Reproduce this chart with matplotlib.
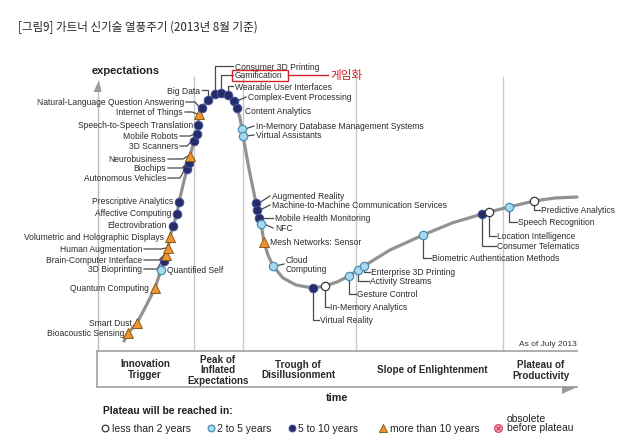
import matplotlib
matplotlib.use("Agg")
import matplotlib.pyplot as plt
from matplotlib.patches import Rectangle, Polygon

# ---------------- data ----------------
title = "[그림9] 가트너 신기술 열풍주기 (2013년 8월 기준)"

# hype curve (time, expectations) (pixel space)
curve_x = [124, 128, 137, 146, 155, 161, 164, 166, 168, 170, 173, 177, 179, 183, 187, 189,
           190, 194, 197, 198, 199, 202, 208, 215, 221, 228, 234, 237, 240, 242, 243, 249,
           256, 257, 259, 261, 264, 268, 273, 283, 296, 313, 325, 337, 349, 358, 364, 390,
           423, 452, 482, 489, 509, 534, 555, 577]
curve_y = [342, 334, 324, 307, 289, 271, 262, 256, 249, 238, 227, 215, 203, 186, 170, 164,
           157, 142, 135, 126, 115, 109, 101, 95, 94, 96, 102, 109, 119, 130, 137, 170,
           204, 211, 219, 225, 243, 256, 267, 279, 286, 289, 287, 283, 277, 271, 267, 251,
           236, 224, 215, 213, 208, 202, 199, 198]

tech_names = [
    "Bioacoustic Sensing", "Smart Dust", "Quantum Computing", "Quantified Self",
    "3D Bioprinting", "Brain-Computer Interface", "Human Augmentation",
    "Volumetric and Holographic Displays", "Electrovibration", "Affective Computing",
    "Prescriptive Analytics", "Autonomous Vehicles", "Biochips", "Neurobusiness",
    "3D Scanners", "Mobile Robots", "Speech-to-Speech Translation", "Internet of Things",
    "Natural-Language Question Answering", "Big Data", "Consumer 3D Printing",
    "Gamification", "Wearable User Interfaces", "Complex-Event Processing",
    "Content Analytics", "In-Memory Database Management Systems", "Virtual Assistants",
    "Augmented Reality", "Machine-to-Machine Communication Services",
    "Mobile Health Monitoring", "NFC", "Mesh Networks: Sensor", "Cloud\nComputing",
    "Virtual Reality", "In-Memory Analytics", "Gesture Control", "Activity Streams",
    "Enterprise 3D Printing", "Biometric Authentication Methods", "Consumer Telematics",
    "Location Intelligence", "Speech Recognition", "Predictive Analytics",
]
tech_x = [128, 137, 155, 161, 164, 166, 168, 170, 173, 177, 179, 187, 189, 190, 194, 197,
          198, 199, 202, 208, 215, 221, 228, 234, 237, 242, 243, 256, 257, 259, 261, 264,
          273, 313, 325, 349, 358, 364, 423, 482, 489, 509, 534]
tech_y = [334, 324, 289, 271, 262, 256, 249, 238, 227, 215, 203, 170, 164, 157, 142, 135,
          126, 115, 109, 101, 95, 94, 96, 102, 109, 130, 137, 204, 211, 219, 225, 243,
          267, 289, 287, 277, 271, 267, 236, 215, 213, 208, 202]
# plateau category: 0 <2y, 1 2-5y, 2 5-10y, 3 >10y
tech_cat = [3, 3, 3, 1, 2, 3, 3, 3, 2, 2, 2, 2, 2, 3, 2, 2, 2, 3, 2, 2, 2, 2, 2, 2, 2, 1, 1,
            2, 2, 2, 1, 3, 1, 2, 0, 1, 1, 1, 1, 2, 0, 1, 0]

phase_labels = ["Innovation\nTrigger", "Peak of\nInflated\nExpectations",
                "Trough of\nDisillusionment", "Slope of Enlightenment",
                "Plateau of\nProductivity"]
legend_labels = ["less than 2 years", "2 to 5 years", "5 to 10 years", "more than 10 years",
                 "obsolete\nbefore plateau"]

# ---------------- layout (label anchors and leader styles) ----------------
label_layout = {
    "Bioacoustic Sensing": (124, 334, "right", None),
    "Smart Dust": (132, 324, "right", None),
    "Quantum Computing": (149, 289, "right", None),
    "Quantified Self": (167, 271, "left", None),
    "3D Bioprinting": (142, 270, "right", "elbowL"),
    "Brain-Computer Interface": (142, 261, "right", "elbowL"),
    "Human Augmentation": (142, 250, "right", "elbowL"),
    "Volumetric and Holographic Displays": (164, 238, "right", None),
    "Electrovibration": (167, 226, "right", None),
    "Affective Computing": (171, 214, "right", None),
    "Prescriptive Analytics": (173, 202, "right", None),
    "Autonomous Vehicles": (166, 179, "right", "elbowL"),
    "Biochips": (166, 169, "right", "elbowL"),
    "Neurobusiness": (166, 160, "right", "elbowL"),
    "3D Scanners": (178, 147, "right", "elbowL"),
    "Mobile Robots": (178, 137, "right", "elbowL"),
    "Speech-to-Speech Translation": (193, 126, "right", None),
    "Internet of Things": (183, 113, "right", "elbowL"),
    "Natural-Language Question Answering": (184, 103, "right", "elbowL"),
    "Big Data": (200, 91, "right", "upL"),
    "Consumer 3D Printing": (235, 67, "left", "upR"),
    "Gamification": (235, 76, "left", "upR"),
    "Wearable User Interfaces": (235, 87, "left", "upR"),
    "Complex-Event Processing": (248, 98, "left", "straightR"),
    "Content Analytics": (245, 112, "left", None),
    "In-Memory Database Management Systems": (256, 127, "left", "straightR"),
    "Virtual Assistants": (256, 136, "left", "straightR"),
    "Augmented Reality": (272, 197, "left", "straightR"),
    "Machine-to-Machine Communication Services": (272, 206, "left", "straightR"),
    "Mobile Health Monitoring": (275, 219, "left", "straightR"),
    "NFC": (275, 229, "left", "straightR"),
    "Mesh Networks: Sensor": (270, 243, "left", None),
    "Cloud\nComputing": (286, 265, "left", "straightR"),
    "Virtual Reality": (320, 321, "left", "down"),
    "In-Memory Analytics": (330, 308, "left", "down"),
    "Gesture Control": (357, 295, "left", "down"),
    "Activity Streams": (370, 282, "left", "down"),
    "Enterprise 3D Printing": (371, 273, "left", "down"),
    "Biometric Authentication Methods": (432, 259, "left", "down"),
    "Consumer Telematics": (497, 247, "left", "down"),
    "Location Intelligence": (497, 237, "left", "down"),
    "Speech Recognition": (518, 223, "left", "down"),
    "Predictive Analytics": (541, 211, "left", "down"),
}

W, H = 640, 439
SANS = ["Liberation Sans", "DejaVu Sans"]
CJK = ["Noto Sans CJK KR", "DejaVu Sans"]
TXT = "#2b2b2b"
LEAD = "#4a4a4a"
LABEL_FS = 6.15

cat_style = {
    0: dict(marker="o", ms=6.0, mfc="white", mec="#3a3a3a", mew=0.9),
    1: dict(marker="o", ms=6.0, mfc="#a9d9ef", mec="#4a8db5", mew=0.9),
    2: dict(marker="o", ms=6.2, mfc="#252d69", mec="#46539a", mew=0.7),
    3: dict(marker="^", ms=6.9, mfc="#ef9430", mec="#8a5a1e", mew=0.7),
}

fig = plt.figure(figsize=(W / 100, H / 100), dpi=100)
ax = fig.add_axes([0, 0, 1, 1])
ax.set_xlim(0, W)
ax.set_ylim(H, 0)
ax.axis("off")

# title
ax.text(18, 27, title, family=CJK, fontsize=8.3, fontweight="medium", color="#262626",
        ha="left", va="center")

# axes / dividers
for dx in [194, 243, 356, 503]:
    ax.plot([dx, dx], [78, 352], color="#c9c9c9", lw=1.0, zorder=1)
ax.plot([98, 98], [92, 352], color="#bdbdbd", lw=1.0, zorder=1)
ax.add_patch(Polygon([(99, 81), (101.5, 93), (93.5, 93)], closed=True, fc="#9a9a9a",
                     ec="none", zorder=2))
ax.plot([97, 577], [352, 352], color="#a8a8a8", lw=1.3, zorder=1)
ax.plot([97, 577], [388, 388], color="#a8a8a8", lw=1.3, zorder=1)
ax.plot([97, 97], [352, 388], color="#a8a8a8", lw=1.3, zorder=1)
ax.add_patch(Polygon([(562, 387.5), (578, 387.5), (562, 395)], closed=True, fc="#9a9a9a",
                     ec="none", zorder=2))

ax.text(92, 71, "expectations", family=SANS, fontweight="bold", fontsize=8.0,
        color="#222222", ha="left", va="center")
ax.text(337, 398, "time", family=SANS, fontweight="bold", fontsize=7.8, color="#222222",
        ha="center", va="center")
ax.text(577, 345, "As of July 2013", family=SANS, fontsize=6.0, color="#333333",
        ha="right", va="center")

phase_pos = [(145, 369.5), (218, 370.5), (298, 370), (432, 370.5), (541, 370.5)]
for lab, (px, py) in zip(phase_labels, phase_pos):
    ax.text(px, py, lab, family=SANS, fontweight="bold", fontsize=7.1, color="#2a2a2a",
            ha="center", va="center", linespacing=1.05)

# curve
ax.plot(curve_x, curve_y, color="#929292", lw=2.3, solid_capstyle="round", zorder=3)

# leaders + labels
for name, mx, my, cat in zip(tech_names, tech_x, tech_y, tech_cat):
    tx, ty, ha, kind = label_layout[name]
    pts = None
    if kind == "elbowL":
        pts = [(tx + 2, ty), (mx - 7, ty), (mx - 2, my)]
    elif kind == "upL":
        pts = [(tx + 2, ty), (mx, ty), (mx, my)]
    elif kind == "upR":
        pts = [(tx - 2, ty), (mx, ty), (mx, my)]
    elif kind == "straightR":
        pts = [(tx - 2, ty), (mx + 3, my)]
    elif kind == "down":
        pts = [(mx, my), (mx, ty), (tx - 1.5, ty)]
    if pts:
        ax.plot([p[0] for p in pts], [p[1] for p in pts], color=LEAD, lw=0.9, zorder=2)
    ax.text(tx, ty, name, family=SANS, fontsize=LABEL_FS, color=TXT, ha=ha, va="center",
            linespacing=1.0, zorder=5)
    ax.plot([mx], [my], ls="none", zorder=4, **cat_style[cat])

# Gamification highlight
ax.add_patch(Rectangle((232, 71), 56, 10.5, fill=False, ec="#d2232a", lw=1.0, zorder=6))
ax.plot([288, 328], [76, 76], color="#d2232a", lw=1.0, zorder=6)
ax.text(330, 76, "게임화", family=CJK, fontsize=8.4, color="#d2232a", ha="left",
        va="center", zorder=6)

# legend
ax.text(103, 411, "Plateau will be reached in:", family=SANS, fontweight="bold",
        fontsize=7.4, color="#1e1e1e", ha="left", va="center")
leg_marker_x = [105, 211, 292, 383]
leg_text_x = [111.5, 217, 298, 390]
for i in range(4):
    st = dict(cat_style[i])
    st["ms"] = st["ms"] * 0.8
    ax.plot([leg_marker_x[i]], [429], ls="none", **st)
    ax.text(leg_text_x[i], 429, legend_labels[i], family=SANS, fontsize=7.5,
            color="#222222", ha="left", va="center")
ax.plot([498], [429], marker="o", ms=5.5, mfc="#f4b8c4", mec="#d9425e", mew=0.9,
        ls="none")
ax.plot([498], [429], marker="x", ms=3.2, mec="#d9425e", mew=0.9, ls="none")
ax.text(507, 423.5, legend_labels[4], family=SANS, fontsize=7.5, color="#222222",
        ha="left", va="center", linespacing=0.95)

fig.savefig("out.png", dpi=100)
